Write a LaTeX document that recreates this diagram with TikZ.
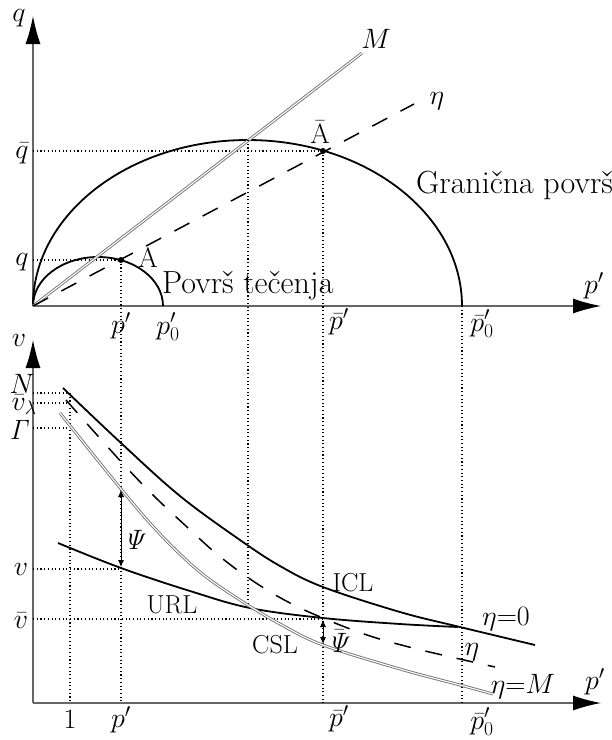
\RequirePackage{fix-cm}
\documentclass[tikz,border=0pt]{standalone}
\usepackage{amsmath}
\usepackage{tikz}
\usetikzlibrary{arrows.meta, positioning}

\begin{document}
\begin{tikzpicture}[x=1pt, y=-1pt,
  font=\fontsize{28}{32}\selectfont,
  axis/.style={draw=black!60, line width=1.1pt, -{Latex[length=28pt,width=15pt,black]}},
  guide/.style={line width=1.1pt, dash pattern=on 1.1pt off 2.6pt},
  curve/.style={line width=1.8pt},
  etaline/.style={line width=1.5pt, dash pattern=on 17pt off 15pt},
  csline/.style={draw=black!55, double=white, double distance=1.1pt, line width=0.9pt},
  psi/.style={line width=0.9pt, {Latex[length=7pt,width=6pt]}-{Latex[length=7pt,width=6pt]}},
  dot/.style={circle, fill=black, inner sep=0pt, minimum size=6pt},
  lbl/.style={inner sep=0pt},
  word/.style={inner sep=0pt, font=\fontsize{26}{30}\selectfont},
  big/.style={inner sep=0pt, anchor=base west, font=\fontsize{32}{36}\selectfont}
]
  \useasboundingbox (0,0) rectangle (612,740);

  % q - p' plane
  \coordinate (O1) at (33,306);
  \coordinate (qend) at (33,16);
  \coordinate (p1end) at (601,306);
  \draw[axis] (O1) -- (qend);
  \draw[axis] (O1) -- (p1end);

  \coordinate (A) at (121,260);
  \coordinate (Ab) at (323,151);
  \coordinate (Top) at (248,140);
  \coordinate (p0s) at (163,306);
  \coordinate (p0b) at (462,306);
  \coordinate (Mend) at (362,53);
  \coordinate (etaend) at (414,104);
  \coordinate (qA) at (33,260);
  \coordinate (qAb) at (33,151);

  \draw[guide] (qA) -- (A);
  \draw[guide] (qAb) -- (Ab);

  \draw[curve] (O1) arc[start angle=180, end angle=0, x radius=65pt, y radius=49pt];
  \draw[curve] (O1) arc[start angle=180, end angle=0, x radius=214.5pt, y radius=166pt];
  \draw[csline] (O1) -- (Mend);
  \draw[etaline] (O1) -- (etaend);

  \node[dot] (dA) at (A) {};
  \node[dot] (dAb) at (Ab) {};

  \node[lbl] (lq) at (19,18) {$q$};
  \node[lbl] (lqb) at (22,153) {$\bar{q}$};
  \node[lbl] (lqa) at (22,262) {$q$};
  \node[lbl] (lp1) at (594,286) {$p'$};
  \node[lbl] (lpa) at (121,326) {$p'$};
  \node[lbl] (lp0) at (168,327) {$p'_0$};
  \node[lbl] (lpb) at (339,322) {$\bar{p}'$};
  \node[lbl] (lp0b) at (482,324) {$\bar{p}'_0$};
  \node[lbl] (lM) at (376,39) {$M$};
  \node[lbl] (leta) at (437,101) {$\eta$};
  \node[lbl] (lAb) at (320,132) {$\bar{\mathrm{A}}$};
  \node[lbl] (lA) at (148,258) {A};
  \node[big] (ltec) at (162,293) {Površ tečenja};
  \node[big] (lgr) at (416,193) {Granična površ};

  % v - p' plane
  \coordinate (O2) at (33,703);
  \coordinate (vend) at (33,340);
  \coordinate (p2end) at (601,703);
  \draw[axis] (O2) -- (vend);
  \draw[axis] (O2) -- (p2end);

  \draw[guide] (A) -- (121,703);
  \draw[guide] (Ab) -- (323,703);
  \draw[guide] (Top) -- (248,603);
  \draw[guide] (p0b) -- (462,703);
  \draw[guide] (33,393) -- (68,393);
  \draw[guide] (33,403) -- (68,403);
  \draw[guide] (33,428) -- (70,428);
  \draw[guide] (70,393) -- (70,703);
  \draw[guide] (33,569) -- (121,569);
  \draw[guide] (33,619) -- (323,619);

  \draw[curve] plot[smooth, tension=0.6] coordinates {(63,388) (121,443) (180,496) (240,540) (280,566) (323,587) (400,612) (460,627) (535,645)};
  \draw[curve] plot[smooth, tension=0.6] coordinates {(58,543) (121,568) (190,591) (250,608) (323,618) (400,624) (458,627)};
  \draw[etaline] plot[smooth, tension=0.6] coordinates {(66,400) (97,435) (126,467) (155,497) (187,527) (218,555) (253,581) (290,603) (330,621) (370,636) (409,647) (451,657) (495,667)};
  \draw[csline] plot[smooth, tension=0.6] coordinates {(60,413) (121,489) (160,534) (200,572) (240,600) (280,624) (323,645) (400,669) (460,685) (493,694)};

  \coordinate (psiU) at (121,567);
  \coordinate (psiC) at (121,490);
  \coordinate (psibU) at (323,620);
  \coordinate (psibC) at (323,644);
  \draw[psi] (psiU) -- (psiC);
  \draw[psi] (psibU) -- (psibC);

  \node[lbl] (lv) at (19,340) {$v$};
  \node[lbl] (lN) at (22,384) {$N$};
  \node[lbl] (lvl) at (24,405) {$\bar{v}_{\lambda}$};
  \node[lbl] (lG) at (20,430) {$\mathit{\Gamma}$};
  \node[lbl] (lva) at (21,569) {$v$};
  \node[lbl] (lvb) at (21,621) {$\bar{v}$};
  \node[lbl] (l1) at (70,719) {1};
  \node[lbl] (lpa2) at (121,720) {$p'$};
  \node[lbl] (lpb2) at (339,719) {$\bar{p}'$};
  \node[lbl] (lp0b2) at (482,722) {$\bar{p}'_0$};
  \node[lbl] (lp2) at (595,682) {$p'$};
  \node[lbl, anchor=west] (lpsi) at (123,540) {$\mathit{\Psi}$};
  \node[lbl, anchor=west] (lpsib) at (327,641) {$\bar{\mathit{\Psi}}$};
  \node[word] (lurl) at (172,605) {URL};
  \node[word] (licl) at (353,583) {ICL};
  \node[word] (lcsl) at (275,645) {CSL};
  \node[lbl] (leta0) at (506,619) {$\eta$=0};
  \node[lbl] (leta2) at (472,652) {$\eta$};
  \node[lbl] (letaM) at (523,687) {$\eta$=$M$};
\end{tikzpicture}
\end{document}
